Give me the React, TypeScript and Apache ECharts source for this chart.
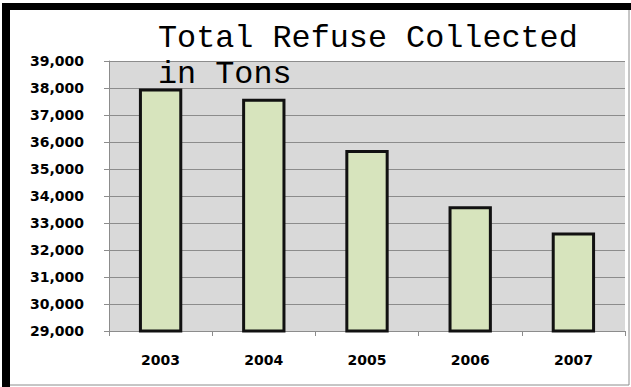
import React, { useEffect, useRef } from "react";
import * as echarts from "echarts";

const years = ["2003", "2004", "2005", "2006", "2007"];
const tons = [37980, 37600, 35700, 33620, 32650];
const titleLines = ["Total Refuse Collected", "in Tons"];

export default function App() {
  const ref = useRef<HTMLDivElement>(null);
  useEffect(() => {
    const chart = echarts.init(ref.current!, null, { renderer: "svg" });
    chart.setOption({
      animation: false,
      backgroundColor: "#ffffff",
      title: {
        text: titleLines.join("\n"),
        left: 153,
        top: 16,
        textStyle: {
          fontFamily: "'Liberation Mono', 'Courier New', monospace",
          fontSize: 31.8,
          fontWeight: "normal",
          color: "#000",
          lineHeight: 36,
        },
      },
      graphic: [
        {
          type: "rect",
          shape: { x: 9.5, y: 9.5, width: 619.5, height: 375.5 },
          style: { fill: "none", stroke: "#8c8c8c", lineWidth: 1 },
          z: 100,
        },
        {
          type: "rect",
          shape: { x: 2, y: 3, width: 629, height: 7 },
          style: { fill: "#000" },
          z: 101,
        },
        {
          type: "rect",
          shape: { x: 2, y: 3, width: 8, height: 384 },
          style: { fill: "#000" },
          z: 101,
        },
      ],
      grid: {
        left: 109,
        top: 61,
        right: 6,
        bottom: 56,
        show: true,
        backgroundColor: "#d9d9d9",
        borderWidth: 0,
      },
      xAxis: {
        type: "category",
        data: years,
        axisLine: { show: true, lineStyle: { color: "#8c8c8c", width: 1 } },
        axisTick: { show: true, length: 5, alignWithLabel: false, lineStyle: { color: "#8c8c8c" } },
        axisLabel: {
          margin: 22,
          fontFamily: "'DejaVu Sans'",
          fontWeight: "bold",
          fontSize: 14,
          color: "#000",
        },
      },
      yAxis: {
        type: "value",
        min: 29000,
        max: 39000,
        interval: 1000,
        axisLine: { show: true, lineStyle: { color: "#8c8c8c", width: 1 } },
        axisTick: { show: true, length: 5, lineStyle: { color: "#8c8c8c" } },
        splitLine: { show: true, lineStyle: { color: "#8c8c8c", width: 1 } },
        axisLabel: {
          margin: 25,
          fontFamily: "'DejaVu Sans'",
          fontWeight: "bold",
          fontSize: 14,
          color: "#000",
          formatter: (v: number) => v.toLocaleString("en-US"),
        },
      },
      series: [
        {
          type: "bar",
          data: tons,
          barWidth: "42%",
          itemStyle: { color: "#d7e4bd", borderColor: "#111", borderWidth: 3 },
          z: 3,
        },
      ],
    });
    return () => chart.dispose();
  }, []);
  return (
    <div
      ref={ref}
      style={{ position: "fixed", left: 0, top: 0, width: 631, height: 387 }}
    />
  );
}
